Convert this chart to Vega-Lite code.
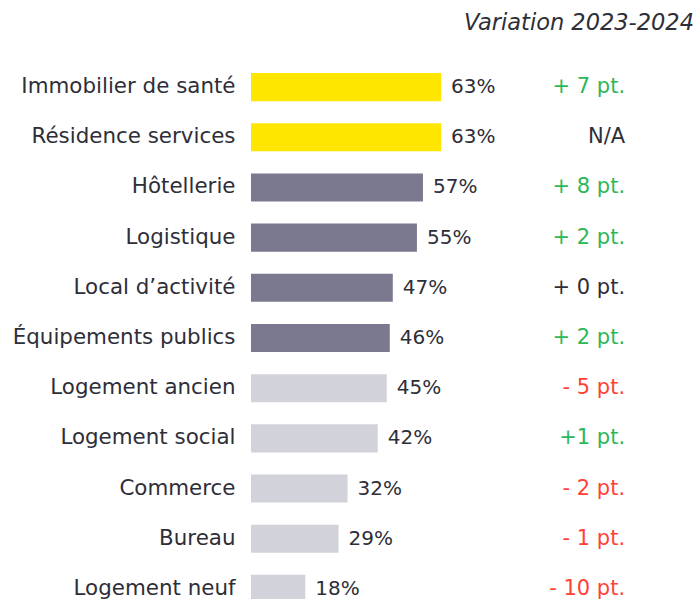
{
  "$schema": "https://vega.github.io/schema/vega-lite/v6.json",
  "autosize": "none",
  "width": 448,
  "height": 552,
  "padding": {"left": 251, "top": 62, "right": 0, "bottom": 0},
  "background": "white",
  "config": {"view": {"stroke": null}, "font": "DejaVu Sans"},
  "title": {
    "text": "Variation 2023-2024",
    "anchor": "end",
    "frame": "group",
    "fontStyle": "italic",
    "fontWeight": "normal",
    "fontSize": 22.5,
    "color": "#2E2E38",
    "font": "DejaVu Sans",
    "offset": 28,
    "dx": -5
  },
  "data": {
    "values": [
      {"cat": "Immobilier de santé", "v": 63, "grp": "highlight", "var": "+ 7 pt.", "sign": "pos"},
      {"cat": "Résidence services", "v": 63, "grp": "highlight", "var": "N/A", "sign": "neutral"},
      {"cat": "Hôtellerie", "v": 57, "grp": "mid", "var": "+ 8 pt.", "sign": "pos"},
      {"cat": "Logistique", "v": 55, "grp": "mid", "var": "+ 2 pt.", "sign": "pos"},
      {"cat": "Local d’activité", "v": 47, "grp": "mid", "var": "+ 0 pt.", "sign": "neutral"},
      {"cat": "Équipements publics", "v": 46, "grp": "mid", "var": "+ 2 pt.", "sign": "pos"},
      {"cat": "Logement ancien", "v": 45, "grp": "light", "var": "- 5 pt.", "sign": "neg"},
      {"cat": "Logement social", "v": 42, "grp": "light", "var": "+1 pt.", "sign": "pos"},
      {"cat": "Commerce", "v": 32, "grp": "light", "var": "- 2 pt.", "sign": "neg"},
      {"cat": "Bureau", "v": 29, "grp": "light", "var": "- 1 pt.", "sign": "neg"},
      {"cat": "Logement neuf", "v": 18, "grp": "light", "var": "- 10 pt.", "sign": "neg"}
    ]
  },
  "transform": [{"calculate": "datum.v + '%'", "as": "pct"}],
  "encoding": {
    "y": {
      "field": "cat",
      "type": "nominal",
      "sort": null,
      "scale": {"paddingInner": 0.44, "paddingOuter": 0.22},
      "axis": {
        "title": null,
        "domain": false,
        "ticks": false,
        "labelPadding": 16,
        "labelFontSize": 21.4,
        "labelFont": "DejaVu Sans",
        "labelColor": "#2E2E38",
        "labelLimit": 300
      }
    }
  },
  "layer": [
    {
      "mark": {"type": "bar"},
      "encoding": {
        "x": {"field": "v", "type": "quantitative", "scale": {"domain": [0, 148.5], "nice": false, "zero": true}, "axis": null},
        "color": {
          "field": "grp",
          "type": "nominal",
          "scale": {"domain": ["highlight", "mid", "light"], "range": ["#FFE600", "#7A798F", "#D2D2DA"]},
          "legend": null
        }
      }
    },
    {
      "mark": {"type": "text", "align": "left", "baseline": "middle", "dx": 10, "fontSize": 20, "color": "#2E2E38"},
      "encoding": {
        "x": {"field": "v", "type": "quantitative"},
        "text": {"field": "pct", "type": "nominal"}
      }
    },
    {
      "mark": {"type": "text", "align": "right", "baseline": "middle", "fontSize": 21},
      "encoding": {
        "x": {"datum": 124, "type": "quantitative"},
        "text": {"field": "var", "type": "nominal"},
        "color": {
          "field": "sign",
          "type": "nominal",
          "scale": {"domain": ["pos", "neutral", "neg"], "range": ["#2DB757", "#2E2E38", "#FF4136"]},
          "legend": null
        }
      }
    }
  ],
  "resolve": {"scale": {"color": "independent"}}
}
